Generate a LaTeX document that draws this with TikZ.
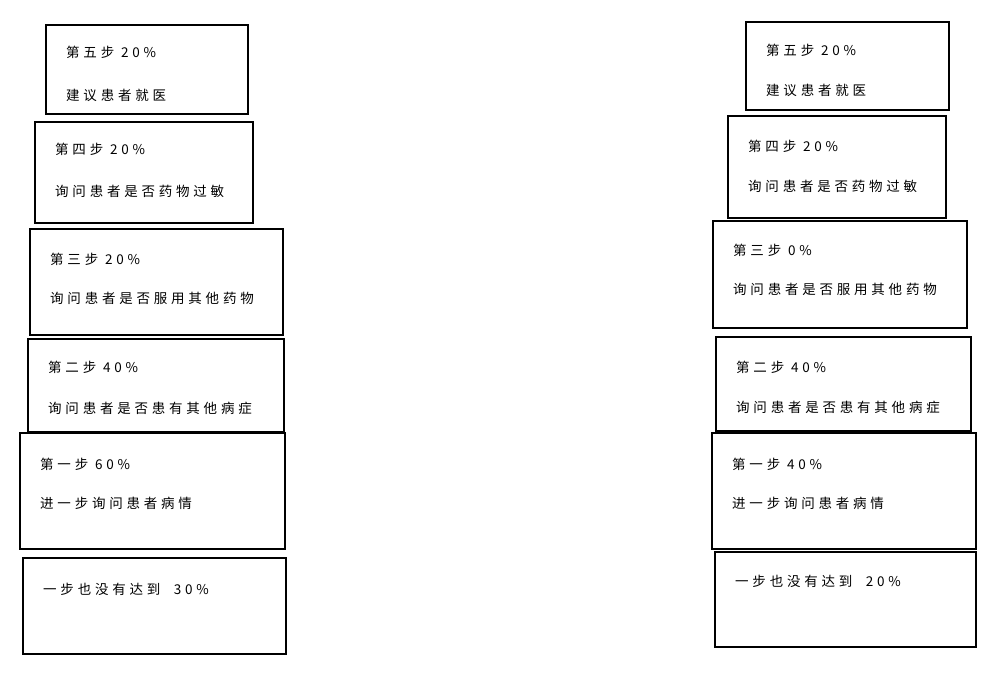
\documentclass[tikz,border=0pt]{standalone}
\usepackage{fontspec}
\setmainfont[LetterSpace=28]{Noto Sans CJK SC}
\begin{document}
\begin{tikzpicture}[x=1pt,y=-1pt,
  boxst/.style={draw=black,line width=1.2pt},
  txt/.style={anchor=west,inner sep=0pt,font=\fontsize{13.5pt}{15pt}\selectfont}]
\useasboundingbox (0,0) rectangle (995,675);
% left column
\draw[boxst] (46,25) rectangle (248,114);
\node[txt] (l1a) at (66,52) {第五步 20\%};
\node[txt] (l1b) at (66,95) {建议患者就医};
\draw[boxst] (35,122) rectangle (253,223);
\node[txt] (l2a) at (55,149) {第四步 20\%};
\node[txt] (l2b) at (55,191) {询问患者是否药物过敏};
\draw[boxst] (30,229) rectangle (283,335);
\node[txt] (l3a) at (50,259) {第三步 20\%};
\node[txt] (l3b) at (50,298) {询问患者是否服用其他药物};
\draw[boxst] (28,339) rectangle (284,432);
\node[txt] (l4a) at (48,367) {第二步 40\%};
\node[txt] (l4b) at (48,408) {询问患者是否患有其他病症};
\draw[boxst] (20,433) rectangle (285,549);
\node[txt] (l5a) at (40,464) {第一步 60\%};
\node[txt] (l5b) at (40,503) {进一步询问患者病情};
\draw[boxst] (23,558) rectangle (286,654);
\node[txt] (l6a) at (43,589) {一步也没有达到\quad 30\%};
% right column
\draw[boxst] (746,22) rectangle (949,110);
\node[txt] (r1a) at (766,50) {第五步 20\%};
\node[txt] (r1b) at (766,90) {建议患者就医};
\draw[boxst] (728,116) rectangle (946,218);
\node[txt] (r2a) at (748,146) {第四步 20\%};
\node[txt] (r2b) at (748,186) {询问患者是否药物过敏};
\draw[boxst] (713,221) rectangle (967,328);
\node[txt] (r3a) at (733,250) {第三步 0\%};
\node[txt] (r3b) at (733,289) {询问患者是否服用其他药物};
\draw[boxst] (716,337) rectangle (971,431);
\node[txt] (r4a) at (736,367) {第二步 40\%};
\node[txt] (r4b) at (736,407) {询问患者是否患有其他病症};
\draw[boxst] (712,433) rectangle (976,549);
\node[txt] (r5a) at (732,464) {第一步 40\%};
\node[txt] (r5b) at (732,503) {进一步询问患者病情};
\draw[boxst] (715,552) rectangle (976,647);
\node[txt] (r6a) at (735,581) {一步也没有达到\quad 20\%};
\end{tikzpicture}
\end{document}
